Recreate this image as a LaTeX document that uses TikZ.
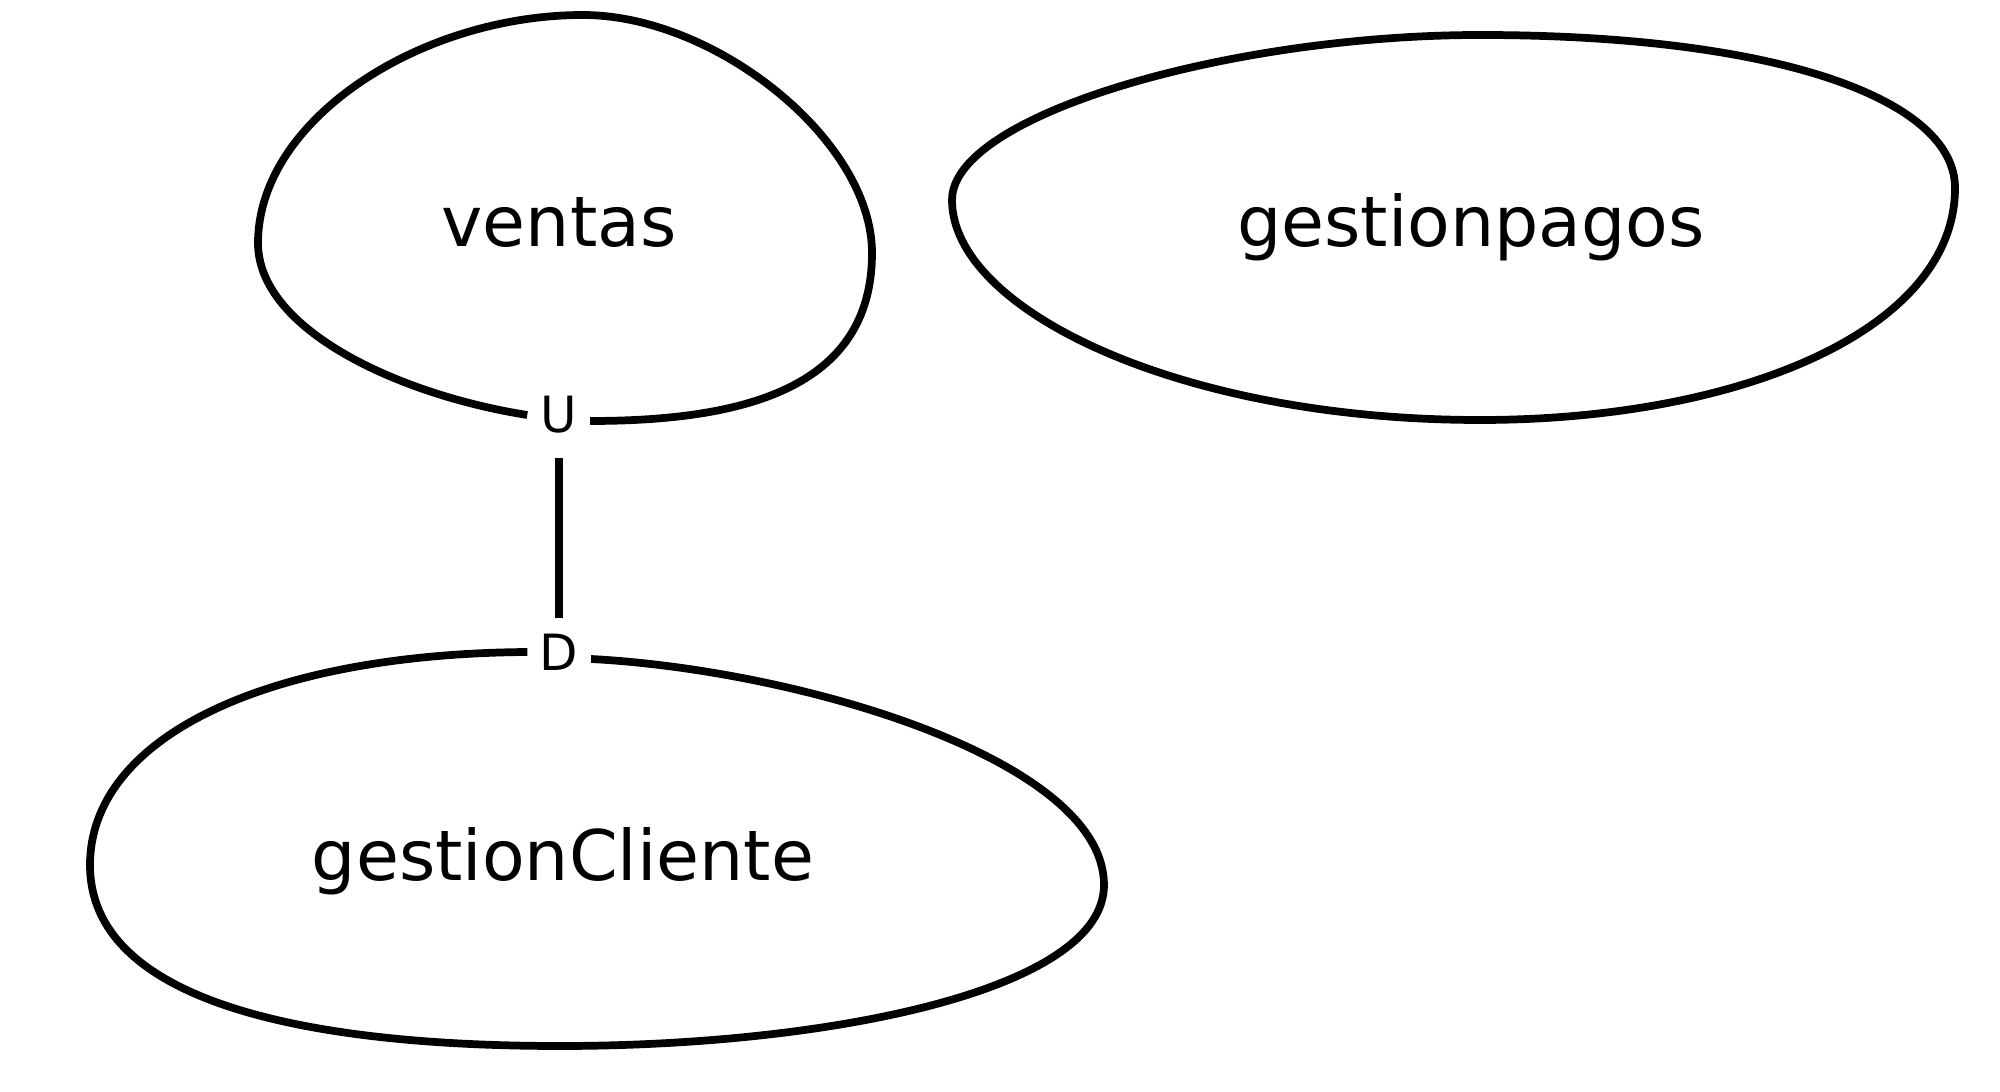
\documentclass[tikz,border=0pt]{standalone}
\usepackage{fontspec}
\setmainfont{DejaVu Sans}
\begin{document}
\begin{tikzpicture}[x=0.01cm,y=-0.01cm,
  big/.style={font=\fontsize{19.84}{24}\selectfont, inner sep=0pt},
  lbl/.style={font=\fontsize{14.2}{17}\selectfont, inner sep=0pt, minimum width=0.62cm},
  blob/.style={draw, line width=2.2pt},
  link/.style={draw, line width=2.2pt}]
\useasboundingbox (0,0) rectangle (2000,1092);
\node[big, anchor=base] (ventas) at (559,247) {ventas};
\node[big, anchor=base] (pagos) at (1471,247) {gestionpagos};
\node[big, anchor=base] (cliente) at (563,880) {gestionCliente};
\node[lbl, minimum height=0.84cm] (U) at (559,415) {U};
\node[lbl, minimum height=0.66cm] (D) at (559,652) {D};
\coordinate (Uend) at (590,421);
\coordinate (Dend) at (591,659);
\draw[link] (U) -- (D);
% ventas loop
\draw[blob] (U.west) .. controls (400,395) and (258,330) .. (258,243)
  .. controls (258,120) and (420,15) .. (583,15)
  .. controls (715,15) and (872,140) .. (872,253)
  .. controls (872,390) and (740,421) .. (Uend);
% gestionpagos
\draw[blob] (1480,35) .. controls (1780,35) and (1955,100) .. (1955,188)
  .. controls (1955,330) and (1740,420) .. (1480,420)
  .. controls (1180,420) and (952,310) .. (952,200)
  .. controls (952,115) and (1230,35) .. cycle;
% gestionCliente
\draw[blob] (D.west) .. controls (260,654) and (90,740) .. (90,865)
  .. controls (90,1000) and (300,1046) .. (560,1046)
  .. controls (830,1046) and (1104,990) .. (1104,885)
  .. controls (1104,760) and (800,670) .. (Dend);
\end{tikzpicture}
\end{document}
